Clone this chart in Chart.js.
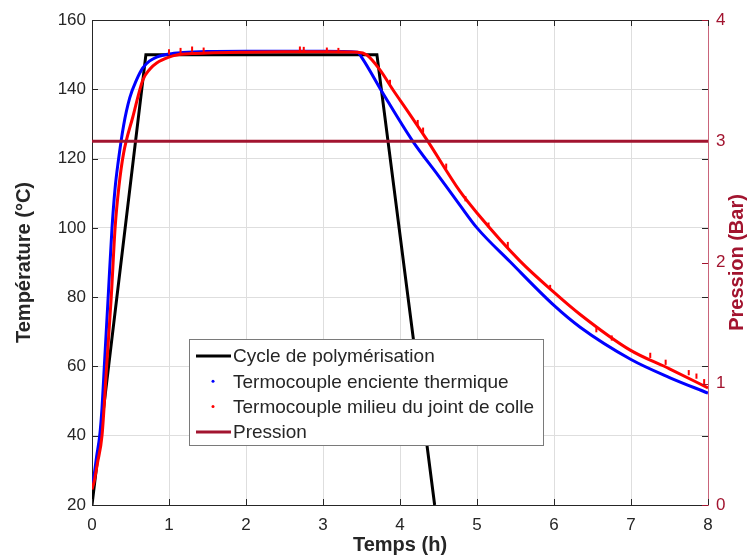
<!DOCTYPE html>
<html>
<head>
<meta charset="utf-8">
<script src="https://cdn.jsdelivr.net/npm/chart.js@4/dist/chart.umd.min.js"></script>
<style>
  html, body { margin: 0; padding: 0; background: #fff; }
  #cadre { width: 747px; height: 557px; }
</style>
</head>
<body>
<div id="cadre"><canvas id="grafico" width="747" height="557"></canvas></div>
<script>
// Cycle de polymérisation (consigne)
const cycleTemps = [0, 0.7, 3.7, 4.45];
const cycleTemp  = [20, 150, 150, 20];

// Termocouple enceinte thermique (bleu)
const enceinteTemps = [0, 0.03, 0.06, 0.1, 0.13, 0.16, 0.21, 0.26, 0.3, 0.34, 0.41, 0.49, 0.58, 0.66, 0.75, 0.84, 1.0, 1.18, 1.5, 2.0, 2.5, 3.0, 3.45, 3.5, 3.78, 4.16, 4.5, 4.78, 5.0, 5.43, 6.0, 6.34, 7.0, 7.5, 8.0];
const enceinteTemp  = [25, 29, 34, 40, 48, 60, 80, 100, 111.5, 119, 129.5, 137.5, 142.8, 146.2, 148.2, 149.3, 150.2, 150.6, 150.9, 151, 151, 151, 150.7, 149.3, 138.8, 125.2, 115.0, 106.5, 100, 90.2, 77.6, 71.3, 62, 56.8, 52.3];

// Termocouple milieu du joint de colle (rouge)
const jointTemps = [0, 0.03, 0.07, 0.13, 0.19, 0.25, 0.3, 0.35, 0.41, 0.53, 0.66, 0.75, 0.84, 1.0, 1.1, 1.3, 1.5, 2.0, 2.5, 3.0, 3.45, 3.57, 3.74, 3.91, 4.09, 4.35, 4.78, 5.0, 5.56, 5.99, 6.34, 6.99, 7.5, 8.0];
const jointTemp  = [24.5, 27, 32, 40, 60, 80, 100, 112, 121.5, 132, 142.7, 145.8, 147.6, 149.3, 149.9, 150.3, 150.5, 150.7, 150.8, 150.8, 150.7, 149.9, 145.6, 139.8, 134, 125.4, 110.5, 104.3, 90.4, 81.6, 75, 64.7, 59.3, 53.8];

// Points isolés (bruit) du joint de colle
const bruitTemps = [1.0, 1.15, 1.3, 1.45, 2.7, 2.75, 3.05, 3.2, 3.87, 4.23, 4.3, 4.6, 4.85, 5.15, 5.4, 5.95, 6.55, 6.75, 7.25, 7.45, 7.75, 7.85, 7.95];
const bruitTemp  = [150.8, 151.2, 151.6, 151.3, 151.6, 151.5, 151.3, 151.2, 142, 130.4, 128.2, 117.8, 108.4, 100.8, 95.2, 82.8, 70.6, 68.2, 63.2, 61.2, 58.2, 57.2, 55.6];

// Pression (Bar)
const pressionTemps = [0, 8];
const pressionVal   = [3, 3];

// Graduations
const ticksX  = [0, 1, 2, 3, 4, 5, 6, 7, 8];
const ticksY  = [20, 40, 60, 80, 100, 120, 140, 160];
const ticksY1 = [0, 1, 2, 3, 4];

const ROUGE_P = '#a2142f';
const GRIS = '#262626';
const POLICE = "'Liberation Sans', Arial, sans-serif";

const pts = (xs, ys) => xs.map((x, i) => ({ x: x, y: ys[i] }));

// Ligne simple pour le dessin des graduations
function trait(ctx, x1, y1, x2, y2) {
  ctx.beginPath(); ctx.moveTo(x1, y1); ctx.lineTo(x2, y2); ctx.stroke();
}

// Plugin : cadre, graduations intérieures, légende et titre de l'axe droit
const habillage = {
  id: 'habillage',
  afterDatasetsDraw(chart) {
    const ctx = chart.ctx;
    const a = chart.chartArea;
    const sx = chart.scales.x, sy = chart.scales.y, sy1 = chart.scales.y1;
    ctx.save();
    ctx.lineWidth = 1;
    ctx.strokeStyle = GRIS;
    trait(ctx, a.left, a.top + 0.5, a.right, a.top + 0.5);
    ticksX.forEach(v => {
      const px = Math.round(sx.getPixelForValue(v)) + 0.5;
      trait(ctx, px, a.bottom, px, a.bottom - 6);
      trait(ctx, px, a.top, px, a.top + 6);
    });
    ticksY.forEach(v => {
      const py = Math.round(sy.getPixelForValue(v)) + 0.5;
      trait(ctx, a.left, py, a.left + 6, py);
      trait(ctx, a.right, py, a.right - 6, py);
    });
    ctx.strokeStyle = ROUGE_P;
    ticksY1.forEach(v => {
      const py = Math.round(sy1.getPixelForValue(v)) + 0.5;
      trait(ctx, a.right, py, a.right - 6, py);
    });

    // Légende
    const lx = 189, ly = 339, lw = 354, lh = 106;
    ctx.fillStyle = '#fff';
    ctx.fillRect(lx, ly, lw, lh);
    ctx.strokeStyle = '#7a7a7a';
    ctx.strokeRect(lx + 0.5, ly + 0.5, lw, lh);
    ctx.font = '19px ' + POLICE;
    ctx.textBaseline = 'middle';
    ctx.textAlign = 'left';
    const items = chart.data.datasets.filter(d => d.legende);
    items.forEach((d, i) => {
      const cy = ly + 17 + i * 25.3;
      if (d.legende === 'ligne') {
        ctx.strokeStyle = d.borderColor;
        ctx.lineWidth = 3;
        trait(ctx, lx + 7, cy, lx + 42, cy);
      } else {
        ctx.fillStyle = d.borderColor;
        ctx.beginPath(); ctx.arc(lx + 24, cy, 1.5, 0, Math.PI * 2); ctx.fill();
      }
      ctx.fillStyle = GRIS;
      ctx.fillText(d.label, lx + 44, cy + 1);
    });

    // Titre de l'axe droit (lu de bas en haut)
    ctx.save();
    ctx.translate(737, (a.top + a.bottom) / 2);
    ctx.rotate(-Math.PI / 2);
    ctx.textAlign = 'center';
    ctx.fillStyle = ROUGE_P;
    ctx.font = 'bold 20px ' + POLICE;
    ctx.fillText('Pression (Bar)', 0, 0);
    ctx.restore();
    ctx.restore();
  }
};

new Chart(document.getElementById('grafico'), {
  type: 'line',
  data: {
    datasets: [
      { label: 'Cycle de polymérisation', data: pts(cycleTemps, cycleTemp), borderColor: '#000000',
        borderWidth: 3, tension: 0, yAxisID: 'y', order: 4, legende: 'ligne' },
      { label: 'Termocouple enciente thermique', data: pts(enceinteTemps, enceinteTemp), borderColor: '#0000ff',
        borderWidth: 3, cubicInterpolationMode: 'monotone', yAxisID: 'y', order: 3, legende: 'point' },
      { label: 'Termocouple milieu du joint de colle', data: pts(jointTemps, jointTemp), borderColor: '#ff0000',
        borderWidth: 3, cubicInterpolationMode: 'monotone', yAxisID: 'y', order: 2, legende: 'point' },
      { label: 'Pression', data: pts(pressionTemps, pressionVal), borderColor: ROUGE_P,
        borderWidth: 3, tension: 0, yAxisID: 'y1', order: 1, legende: 'ligne' },
      { label: 'bruit', data: pts(bruitTemps, bruitTemp), borderColor: '#ff0000', backgroundColor: '#ff0000',
        showLine: false, pointStyle: 'line', rotation: 90, pointRadius: 2.6, pointBorderWidth: 2,
        yAxisID: 'y', order: 2 }
    ]
  },
  options: {
    responsive: false,
    animation: false,
    devicePixelRatio: 1,
    layout: { padding: { top: 20, left: 12, right: 0, bottom: 0 } },
    elements: { point: { radius: 0 } },
    plugins: { legend: { display: false }, tooltip: { enabled: false } },
    scales: {
      x: {
        type: 'linear', min: 0, max: 8,
        afterBuildTicks: s => { s.ticks = ticksX.map(v => ({ value: v })); },
        afterFit: s => { s.height = 52; },
        grid: { color: '#dedede', drawTicks: false },
        border: { color: GRIS, width: 1 },
        ticks: { color: GRIS, padding: 10, font: { family: POLICE, size: 17 } },
        title: { display: true, text: 'Temps (h)', color: GRIS, padding: 0,
                 font: { family: POLICE, size: 20, weight: 'bold' } }
      },
      y: {
        position: 'left', min: 20, max: 160,
        afterBuildTicks: s => { s.ticks = ticksY.map(v => ({ value: v })); },
        afterFit: s => { s.width = 80; },
        grid: { color: '#dedede', drawTicks: false },
        border: { color: GRIS, width: 1 },
        ticks: { color: GRIS, padding: 6, font: { family: POLICE, size: 17 } },
        title: { display: true, text: 'Température (°C)', color: GRIS, padding: 0,
                 font: { family: POLICE, size: 20, weight: 'bold' } }
      },
      y1: {
        position: 'right', min: 0, max: 4,
        afterBuildTicks: s => { s.ticks = ticksY1.map(v => ({ value: v })); },
        afterFit: s => { s.width = 39; },
        grid: { drawOnChartArea: false, drawTicks: false },
        border: { color: '#c9647a', width: 1 },
        ticks: { color: ROUGE_P, padding: 8, font: { family: POLICE, size: 17 } }
      }
    }
  },
  plugins: [habillage]
});
</script>
</body>
</html>
